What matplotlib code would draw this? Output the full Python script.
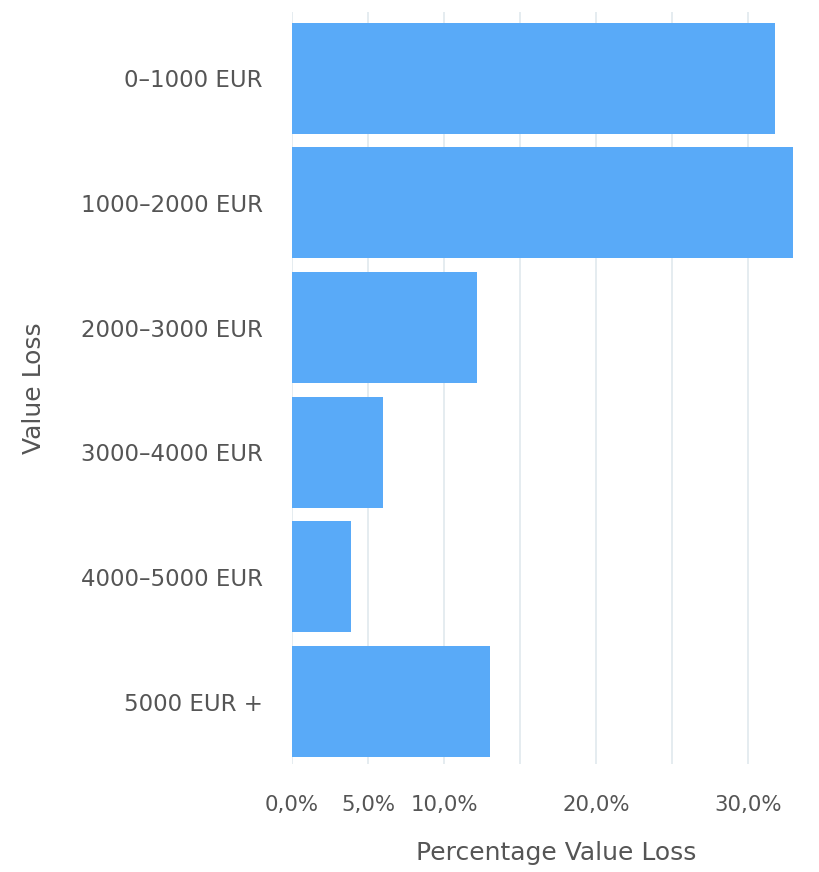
import matplotlib
matplotlib.use("Agg")
import matplotlib.pyplot as plt
from matplotlib.ticker import FixedLocator, FuncFormatter

categories = ["0–1000 EUR", "1000–2000 EUR", "2000–3000 EUR", "3000–4000 EUR", "4000–5000 EUR", "5000 EUR +"]
values = [31.8, 33.0, 12.2, 6.0, 3.9, 13.0]
grid_ticks = [0, 5, 10, 15, 20, 25, 30]
labelled_ticks = [0, 5, 10, 20, 30]

fig = plt.figure(figsize=(8.19, 8.72), dpi=100)
ax = fig.add_axes([292/819, 108/872, (801-292)/819, (764-12)/872])

ypos = list(range(len(categories)))
ax.barh(ypos, values, height=0.89, color="#59aaf8", zorder=2)
ax.set_ylim(len(categories) - 0.5 + 0.0, -0.5 - 0.03)
ax.set_xlim(0, 33.5)
ax.set_yticks(ypos)
ax.set_yticklabels(categories)

ax.xaxis.set_major_locator(FixedLocator(grid_ticks))
ax.xaxis.set_major_formatter(FuncFormatter(
    lambda v, p: (f"{v:.1f}%".replace(".", ",") if round(v) in labelled_ticks else "")))
ax.grid(axis="x", color="#e0e9ed", linewidth=1.2, zorder=0)
for s in ax.spines.values():
    s.set_visible(False)
ax.tick_params(axis="both", length=0, colors="#555555")
ax.tick_params(axis="y", labelsize=16.5, pad=21)
ax.tick_params(axis="x", labelsize=15.3, pad=22)
ax.set_xlabel("Percentage Value Loss", fontsize=18, color="#555555")
ax.xaxis.set_label_coords(0.52, -0.102)
ax.set_ylabel("Value Loss", fontsize=18, color="#555555")
ax.yaxis.set_label_coords(-0.483, 0.5)

fig.savefig("out.png", dpi=100)
